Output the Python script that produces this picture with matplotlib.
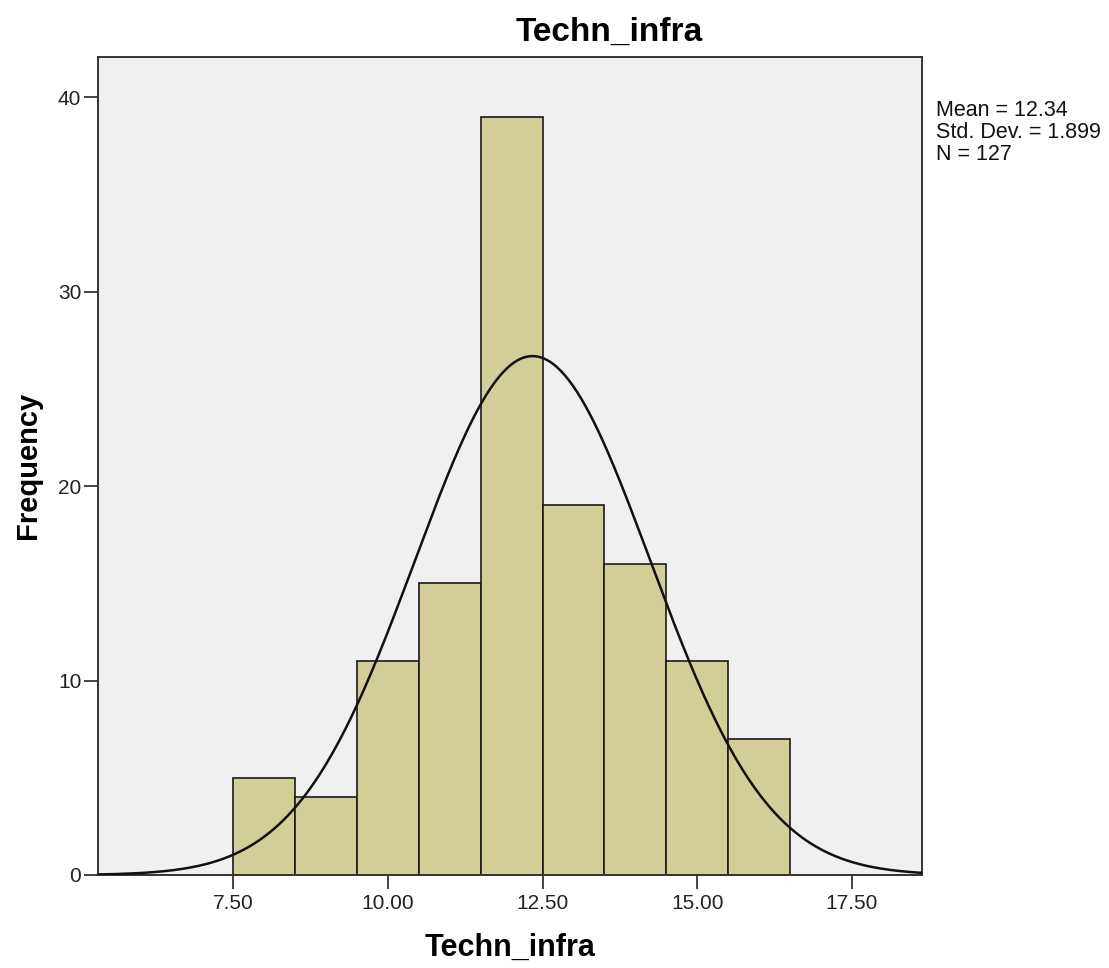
import numpy as np
import matplotlib
matplotlib.use("Agg")
import matplotlib.pyplot as plt

# Data
bin_lefts = [7.5, 8.5, 9.5, 10.5, 11.5, 12.5, 13.5, 14.5, 15.5]
counts = [5, 4, 11, 15, 39, 19, 16, 11, 7]
bin_width = 1.0
mean = 12.34
std = 1.899
n = 127
xticks = [7.5, 10.0, 12.5, 15.0, 17.5]
xtick_labels = ["7.50", "10.00", "12.50", "15.00", "17.50"]
yticks = [0, 10, 20, 30, 40]

plt.rcParams['font.family'] = ['Liberation Sans', 'DejaVu Sans']

fig = plt.figure(figsize=(11.09, 9.68), dpi=100)
ax = fig.add_axes([98/1109, 93/968, (922-98)/1109, (875-57)/968])
ax.set_facecolor('#F0F0F0')

ax.bar(bin_lefts, counts, width=bin_width, align='edge', color='#D3CE97',
       edgecolor='#1a1a1a', linewidth=1.2, zorder=2)

xs = np.linspace(5.32, 18.63, 400)
ys = n * bin_width / (std * np.sqrt(2 * np.pi)) * np.exp(-0.5 * ((xs - mean) / std) ** 2)
ax.plot(xs, ys, color='#111111', linewidth=1.8, zorder=3)

ax.set_xlim(5.32, 18.63)
ax.set_ylim(0, 42.06)
ax.set_xticks(xticks)
ax.set_xticklabels(xtick_labels)
ax.set_yticks(yticks)
ax.tick_params(axis='both', direction='out', length=10, width=1.2,
               labelsize=15, colors='#222222')
ax.tick_params(axis='y', pad=2)
ax.tick_params(axis='x', pad=4)

for s in ax.spines.values():
    s.set_color('#333333')
    s.set_linewidth(1.4)

fig.text(510/1109, 1 - 948/968, "Techn_infra", fontsize=22, fontweight='bold',
         ha='center', va='center')
fig.text(28/1109, 1 - 465/968, "Frequency", fontsize=21, fontweight='bold',
         ha='center', va='center', rotation=90)

fig.text(609/1109, 1 - 32/968, "Techn_infra", fontsize=24, fontweight='bold',
         ha='center', va='center')

fig.text(936/1109, 1 - 100/968, "Mean = 12.34\nStd. Dev. = 1.899\nN = 127",
         fontsize=15.5, ha='left', va='top', linespacing=1.05, color='#111111')

fig.savefig("out.png", dpi=100)
